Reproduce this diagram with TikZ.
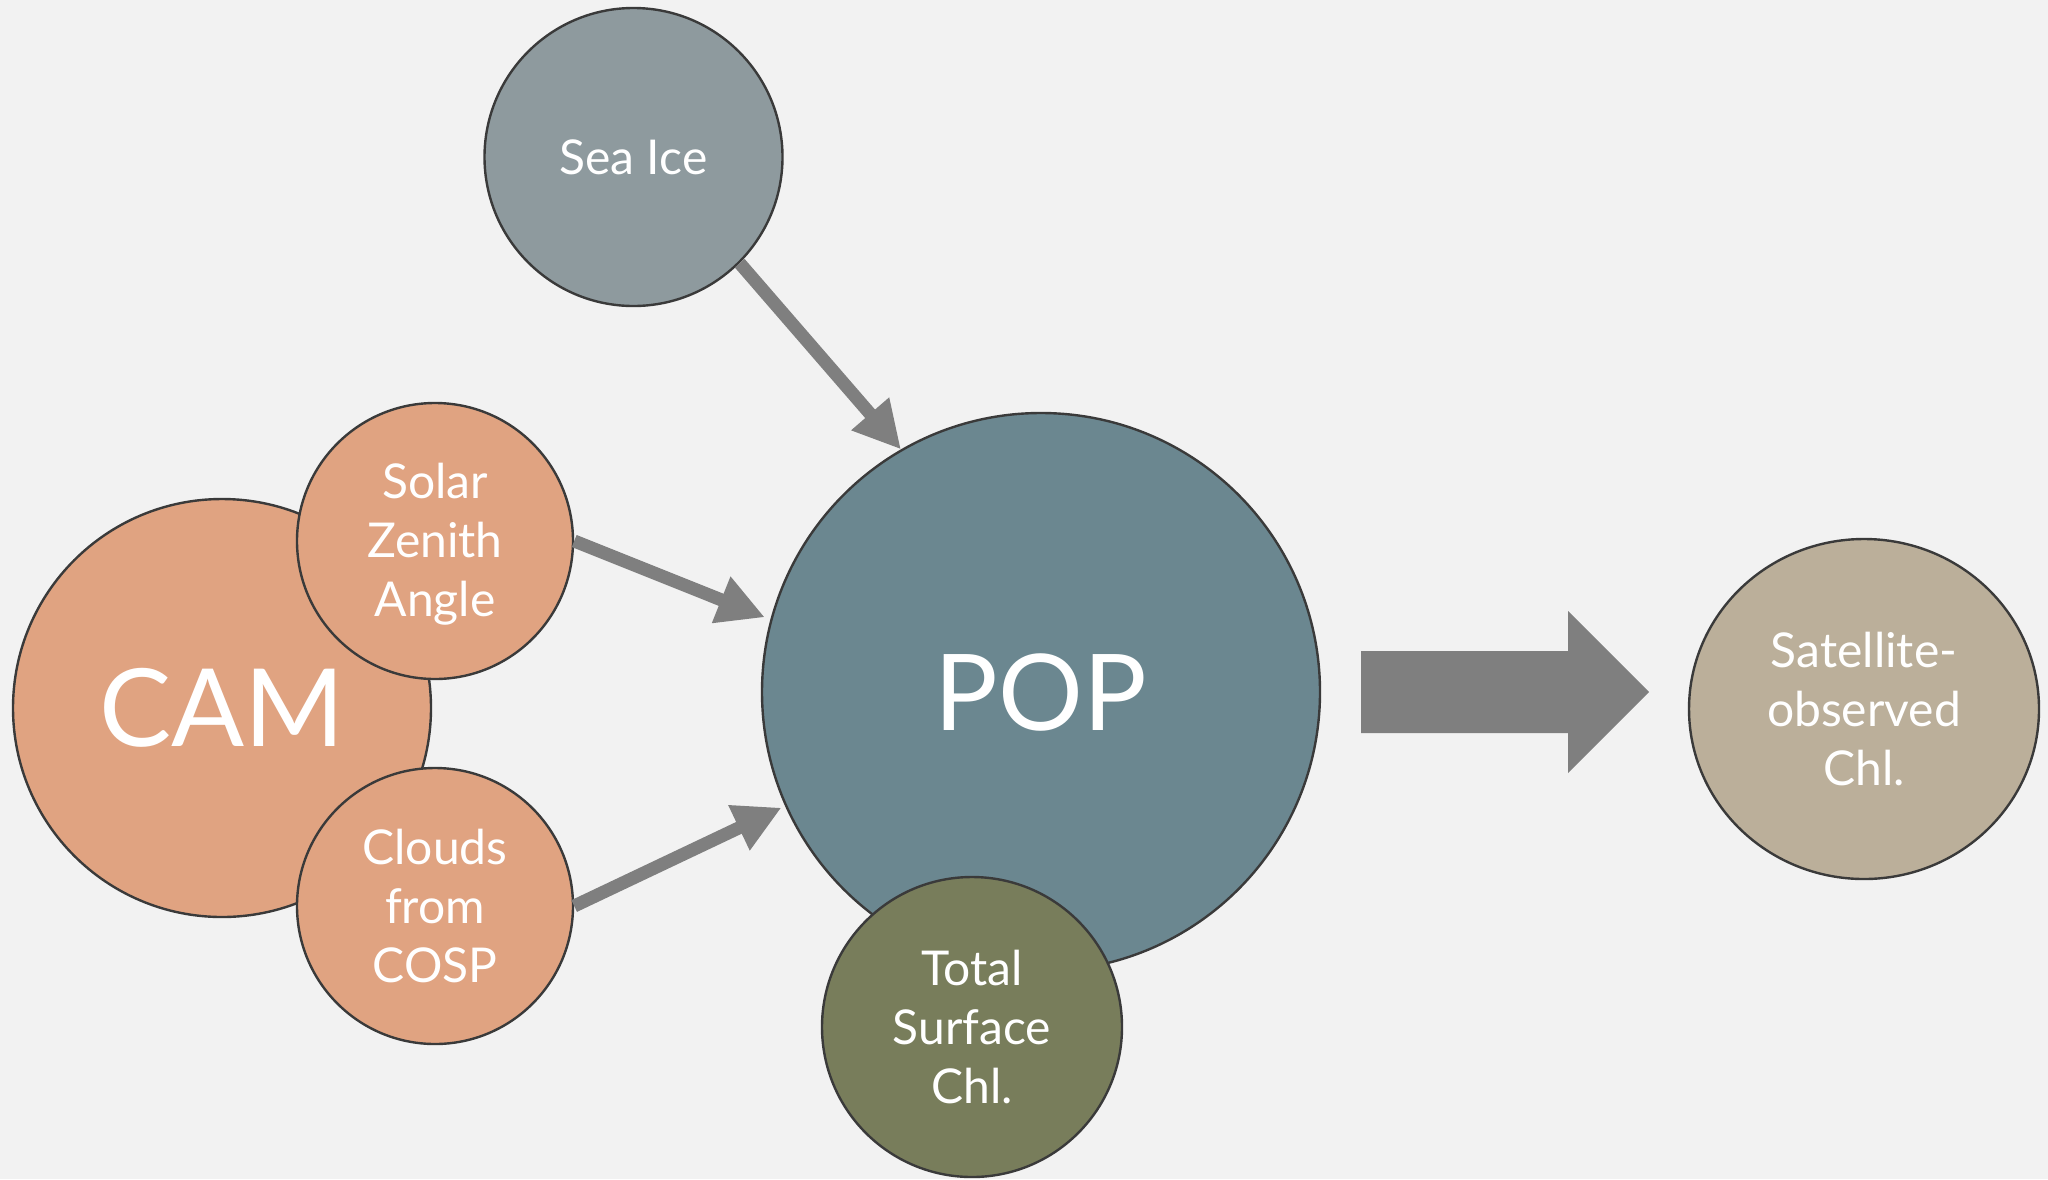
\documentclass[tikz,border=0pt]{standalone}
\usepackage{fontspec}
\setmainfont{Lato}
\usetikzlibrary{shapes.geometric,arrows.meta}
\definecolor{bg}{HTML}{F2F2F2}
\definecolor{edge}{HTML}{3A3A3A}
\definecolor{arrowgray}{HTML}{7F7F7F}
\definecolor{seaice}{HTML}{8E9A9E}
\definecolor{popc}{HTML}{6B8790}
\definecolor{camc}{HTML}{E0A381}
\definecolor{chlc}{HTML}{787D5B}
\definecolor{satc}{HTML}{BBAF9A}
\begin{document}
\begin{tikzpicture}[x=0.5pt,y=-0.5pt,
  bubble/.style={circle, draw=edge, line width=1.2pt, text=white, align=center, inner sep=0pt,
    font=\fontsize{24}{29.5}\selectfont},
  conn/.style={draw=arrowgray, line width=6.5pt, -{Triangle[width=23.5pt,length=23.5pt]}},
  blockarrow/.style={fill=arrowgray, draw=none}]
\fill[bg] (0,0) rectangle (2048,1179);
\useasboundingbox (0,0) rectangle (2048,1179);

\node[bubble, fill=camc, minimum size=209pt, font=\fontsize{54}{60}\selectfont] (cam) at (222,708) {CAM};
\node[bubble, fill=camc, minimum size=138pt] (sza) at (435,541) {\rule{0pt}{21pt}Solar\\Zenith\\Angle};
\node[bubble, fill=camc, minimum size=138pt] (cosp) at (435,906) {Clouds\\from\\COSP};
\node[bubble, fill=popc, minimum size=279pt, font=\fontsize{53}{60}\selectfont] (pop) at (1041,692) {POP};
\node[bubble, fill=chlc, minimum size=150pt] (tsc) at (972,1027) {Total\\Surface\\Chl.};
\node[bubble, fill=seaice, minimum size=149pt] (ice) at (633.5,157) {Sea Ice};
\node[bubble, ellipse, fill=satc, minimum width=175pt, minimum height=170pt] (sat) at (1864,709) {Satellite-\\observed\\Chl.};

\draw[conn] (ice.-45) -- (pop.120);
\draw[conn, shorten >=3pt] (sza.east) -- (pop.165);
\draw[conn, shorten >=2pt] (cosp.east) -- (pop.204);

\coordinate (ba) at (1361,692);
\fill[blockarrow] (ba) ++(0,-41) -- ++(207,0) -- ++(0,-40) -- ++(81,81) -- ++(-81,81) -- ++(0,-40) -- ++(-207,0) -- cycle;
\end{tikzpicture}
\end{document}
